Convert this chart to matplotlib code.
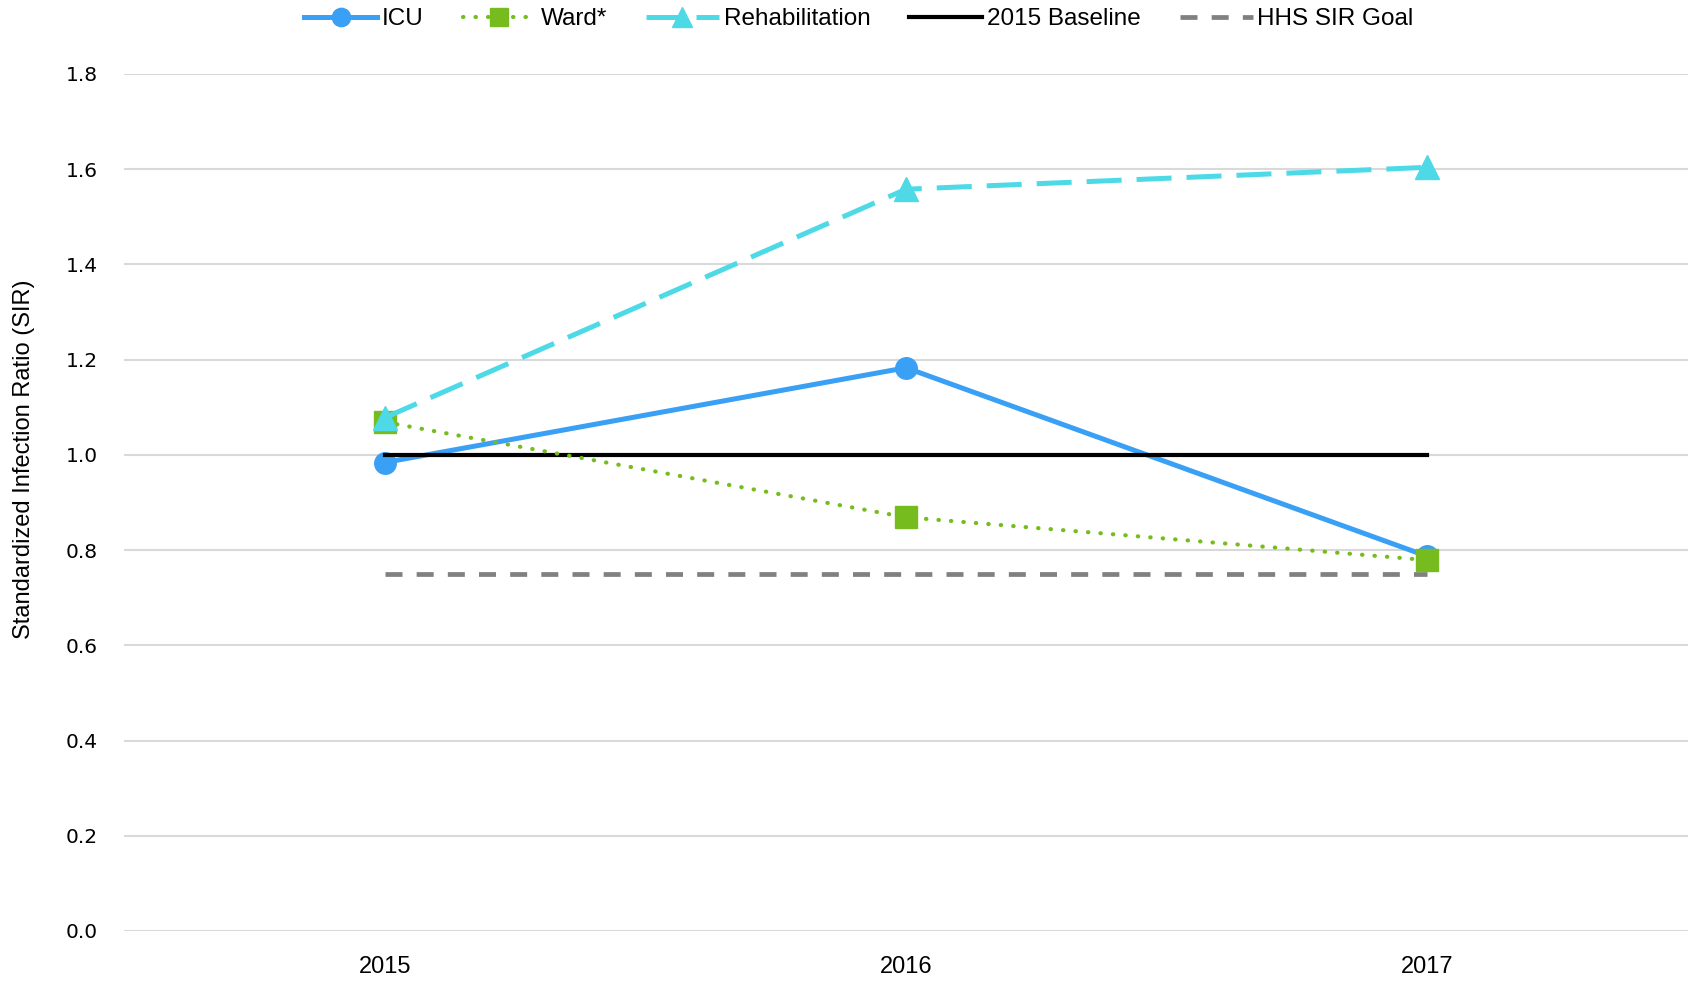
import matplotlib
matplotlib.use("Agg")
import matplotlib.pyplot as plt

years = ["2015", "2016", "2017"]
icu = [0.984, 1.183, 0.787]
ward = [1.069, 0.869, 0.779]
rehab = [1.078, 1.558, 1.604]
baseline = [1.0, 1.0, 1.0]
goal = [0.75, 0.75, 0.75]
yticks = [0.0, 0.2, 0.4, 0.6, 0.8, 1.0, 1.2, 1.4, 1.6, 1.8]

plt.rcParams['font.family'] = ['Liberation Sans', 'DejaVu Sans']

fig = plt.figure(figsize=(16.88, 9.82), dpi=100)
ax = fig.add_axes([124 / 1688, 1 - 931 / 982, 1 - 124 / 1688, (931 - 74) / 982])

x = list(range(len(years)))

ax.plot(x, icu, color="#3aa0f5", lw=3.6, marker="o", ms=15.5, zorder=3, label="ICU")
ax.plot(x, baseline, color="black", lw=3, zorder=4, label="2015 Baseline")
ax.plot(x, goal, color="#808080", lw=3.4, dashes=(3.6, 3.0), zorder=3, label="HHS SIR Goal")
ax.plot(x, ward, color="#77bc1f", lw=3, linestyle=(0, (0.1, 2.9)), dash_capstyle="round",
        marker="s", ms=16, zorder=5, label="Ward*")
ax.plot(x, rehab, color="#4dd9e6", lw=3.6, dashes=(7, 3), marker="^", ms=17, zorder=6,
        label="Rehabilitation")

ax.set_xlim(-0.5, 2.5)
ax.set_ylim(0, 1.8)
ax.set_yticks(yticks)
ax.set_yticklabels(["%.1f" % v for v in yticks], family="DejaVu Sans", fontsize=14.5)
ax.set_xticks(x)
ax.set_xticklabels(years, fontsize=17)
ax.tick_params(axis="y", length=0, pad=19)
ax.tick_params(axis="x", length=0, pad=18)
ax.yaxis.grid(True, color="#d9d9d9", lw=1.5)
ax.set_axisbelow(True)
for s in ax.spines.values():
    s.set_visible(False)
ax.set_ylabel("Standardized Infection Ratio (SIR)", fontsize=17)
ax.yaxis.set_label_coords(-0.057, 0.551)

h, l = ax.get_legend_handles_labels()
order = [0, 3, 4, 1, 2]
fig.legend([h[i] for i in order], [l[i] for i in order], loc="center", ncol=5,
           bbox_to_anchor=(859 / 1688, 1 - 19 / 982), frameon=False, fontsize=17.5,
           handlelength=3.0, columnspacing=1.6, handletextpad=0.2, markerscale=0.85)

fig.savefig("out.png", dpi=100)
